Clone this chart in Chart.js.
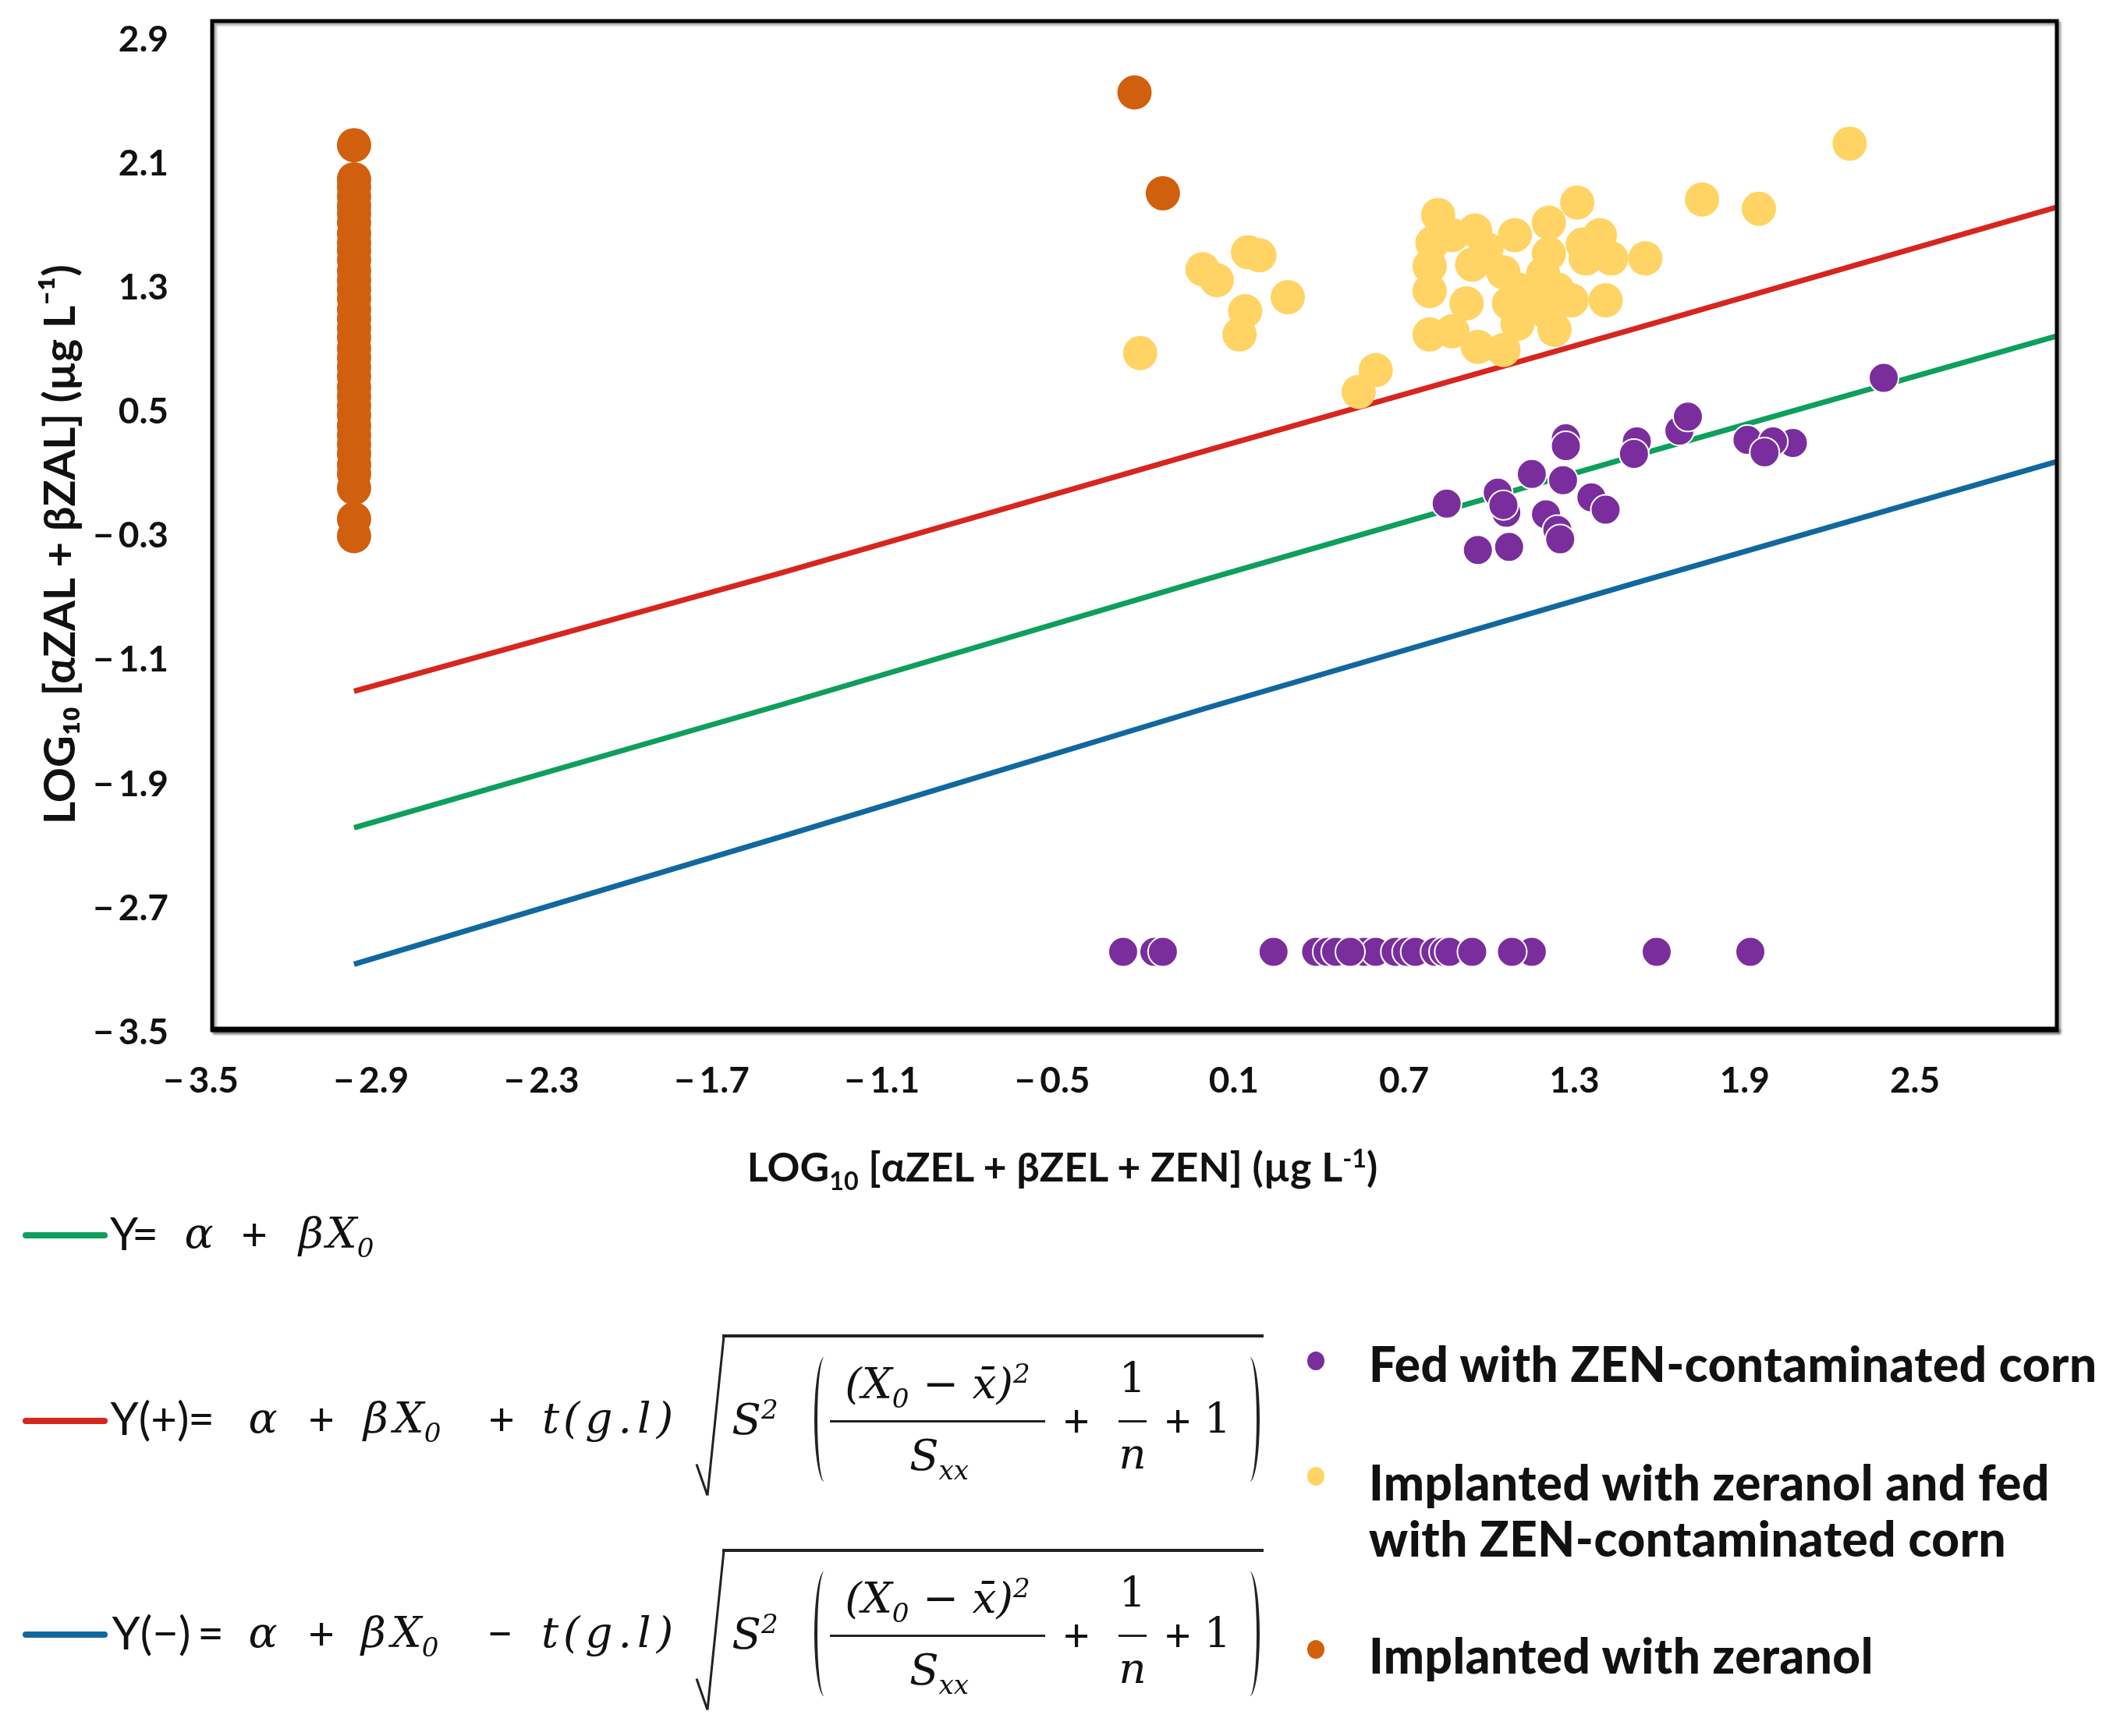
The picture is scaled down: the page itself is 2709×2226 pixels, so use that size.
<!DOCTYPE html>
<html>
<head>
<meta charset="utf-8">
<script src="https://cdn.jsdelivr.net/npm/chart.js@4.4.1/dist/chart.umd.min.js"></script>
<style>
  html, body { margin: 0; padding: 0; background: #fff; }
  body { width: 2709px; height: 2226px; position: relative; overflow: hidden; color: #111; }
  #plot { position: absolute; left: 0; top: 0; width: 2709px; height: 1460px; }
  #legend { position: absolute; left: 0; top: 0; width: 2709px; height: 2226px; }
  .tok { position: absolute; transform: translate(-50%, -50%); line-height: 1; white-space: nowrap; }
  .s { font-family: Lato, sans-serif; font-size: 58px; }
  .m { font-family: "DejaVu Serif", serif; font-style: italic; font-size: 55px; }
  .mw { letter-spacing: 7px; }
  .d { font-family: "DejaVu Serif", serif; font-size: 54px; }
  .lab { position: absolute; transform: translateY(-50%); line-height: 1; white-space: nowrap;
         font-family: Lato, sans-serif; font-weight: 900; font-size: 62px; letter-spacing: 0.5px; }
  .dot { position: absolute; width: 22px; height: 24px; border-radius: 50%; transform: translate(-50%, -50%); }
  .sw { position: absolute; left: 29px; width: 109px; height: 8px; border-radius: 4px; }
  .par { position: absolute; width: 26px; height: 160px; box-sizing: border-box; }
  #xtitle { position: absolute; left: 1362px; top: 1495px; transform: translate(-50%, -50%);
            font-family: Lato, sans-serif; font-weight: bold; font-size: 52px; white-space: nowrap; }
  sub, sup { font-size: 0.62em; line-height: 0; }
</style>
</head>
<body>
<div id="plot"><canvas id="chart"></canvas></div>
<div id="legend">
  <div id="xtitle">LOG<sub>10</sub> [αZEL + βZEL + ZEN] (µg L<sup>-1</sup>)</div>
</div>
<script>
// Axis ticks
const xTicks = [-3.5, -2.9, -2.3, -1.7, -1.1, -0.5, 0.1, 0.7, 1.3, 1.9, 2.5];
const yTicks = [-3.5, -2.7, -1.9, -1.1, -0.3, 0.5, 1.3, 2.1, 2.9];

// Regression line and prediction limits
const lineX  = [-3.0, -1.5, 0.0, 1.5, 3.0];
const fitY   = [-2.20, -1.41, -0.60, 0.19, 0.97];
const upperY = [-1.32, -0.56, 0.23, 1.01, 1.80];
const lowerY = [-3.08, -2.26, -1.43, -0.63, 0.16];

// Fed with ZEN-contaminated corn
const fedX = [0.85, 1.03, 1.06, 1.05, 1.15, 1.27, 1.27, 1.26, 1.20, 1.24, 1.25, 0.96, 1.07, 1.36, 1.41,
              1.52, 1.51, 1.67, 1.70, 1.91, 2.07, 2.00, 1.97, 2.39,
              -0.29, -0.18, -0.15, 0.24, 0.39, 0.43, 0.46, 0.56, 0.60, 0.51, 0.67, 0.71, 0.74,
              0.81, 0.84, 0.86, 0.94, 1.15, 1.08, 1.59, 1.92];
const fedY = [-0.11, -0.04, -0.17, -0.12, 0.08, 0.31, 0.26, 0.04, -0.18, -0.28, -0.34, -0.41, -0.39, -0.07, -0.15,
              0.29, 0.21, 0.36, 0.45, 0.30, 0.28, 0.29, 0.22, 0.70,
              -3.0, -3.0, -3.0, -3.0, -3.0, -3.0, -3.0, -3.0, -3.0, -3.0, -3.0, -3.0, -3.0,
              -3.0, -3.0, -3.0, -3.0, -3.0, -3.0, -3.0, -3.0];

// Implanted with zeranol and fed with ZEN-contaminated corn
const bothX = [-0.23, -0.01, 0.04, 0.15, 0.19, 0.29, 0.14, 0.12, 0.54, 0.60, 1.95, 2.27, 1.75, 0.82,
               0.80, 0.95, 1.09, 1.21, 1.31, 1.39, 1.55, 1.43, 0.94, 0.79, 0.92, 1.05, 1.07, 1.19,
               1.21, 1.16, 1.29, 1.41, 1.34, 0.79, 0.87, 0.96, 1.05, 1.23, 1.21, 0.99, 0.79,
               1.10, 1.24, 0.87, 1.33, 1.10];
const bothY = [0.86, 1.40, 1.33, 1.51, 1.49, 1.22, 1.13, 0.98, 0.61, 0.75, 1.79, 2.21, 1.85, 1.75,
               1.57, 1.65, 1.62, 1.70, 1.83, 1.62, 1.47, 1.47, 1.43, 1.26, 1.18, 1.38, 1.18, 1.37,
               1.50, 1.18, 1.20, 1.20, 1.47, 0.98, 1.00, 0.90, 0.88, 1.01, 1.11, 1.53, 1.42,
               1.27, 1.27, 1.62, 1.56, 1.05];

// Implanted with zeranol
const zerX = [-3.0, -3.0, -3.0, -3.0, -3.0, -3.0, -3.0, -3.0, -3.0, -3.0, -3.0, -3.0, -3.0,
              -3.0, -3.0, -3.0, -3.0, -3.0, -3.0, -3.0, -3.0, -3.0, -3.0, -3.0, -3.0, -3.0,
              -3.0, -3.0, -3.0, -3.0, -3.0, -3.0, -3.0, -3.0, -3.0, -3.0, -0.25, -0.15];
const zerY = [2.20, 1.98, 1.93, 1.87, 1.81, 1.76, 1.70, 1.63, 1.57, 1.52, 1.46, 1.39, 1.33,
              1.27, 1.21, 1.14, 1.08, 1.02, 0.96, 0.89, 0.83, 0.77, 0.71, 0.64, 0.58, 0.52,
              0.46, 0.39, 0.33, 0.27, 0.21, 0.14, 0.08, -0.01, -0.21, -0.32, 2.54, 1.89];

const GREEN = '#0e9f5c', RED = '#d7261e', BLUE = '#11689f';
const PURPLE = '#7a2e9e', YELLOW = '#ffd464', ORANGE = '#d0600e';

const pts = (xs, ys) => xs.map((x, i) => ({ x, y: ys[i] }));
const num = v => (v < 0 ? '\u2212\u2009' : '') + Math.abs(v).toFixed(1);

const tickFont = { family: 'Lato', size: 46, weight: 'bold' };

// black frame round the plot area
const frame = {
  id: 'frame',
  afterDraw(chart) {
    const { ctx, chartArea: a } = chart;
    ctx.save();
    ctx.shadowColor = 'rgba(0,0,0,0.35)';
    ctx.shadowOffsetX = 3;
    ctx.shadowOffsetY = 3;
    ctx.shadowBlur = 3;
    ctx.strokeStyle = '#000';
    ctx.lineWidth = 5;
    ctx.strokeRect(a.left, a.top, a.right - a.left, a.bottom - a.top);
    ctx.lineWidth = 7;
    ctx.beginPath();
    ctx.moveTo(a.left - 2, a.bottom);
    ctx.lineTo(a.right + 2, a.bottom);
    ctx.stroke();
    ctx.restore();
  }
};

// keep label padding from pushing the plot area in
const noPad = ax => { ax.paddingTop = 0; ax.paddingBottom = 0; ax.paddingLeft = 0; ax.paddingRight = 0; };

new Chart(document.getElementById('chart'), {
  type: 'scatter',
  data: {
    datasets: [
      { label: 'Y = α + βX0', data: pts(lineX, fitY), showLine: true, borderColor: GREEN,
        borderWidth: 7, pointRadius: 0, order: 1 },
      { label: 'Y(+)', data: pts(lineX, upperY), showLine: true, borderColor: RED,
        borderWidth: 7, pointRadius: 0, order: 1 },
      { label: 'Y(−)', data: pts(lineX, lowerY), showLine: true, borderColor: BLUE,
        borderWidth: 7, pointRadius: 0, order: 1 },
      { label: 'Fed with ZEN-contaminated corn', data: pts(fedX, fedY), backgroundColor: PURPLE,
        borderColor: '#fff', borderWidth: 2, pointRadius: 19, order: 0 },
      { label: 'Implanted with zeranol and fed with ZEN-contaminated corn', data: pts(bothX, bothY),
        backgroundColor: YELLOW, borderColor: YELLOW, borderWidth: 0, pointRadius: 22, order: 0 },
      { label: 'Implanted with zeranol', data: pts(zerX, zerY), backgroundColor: ORANGE,
        borderColor: ORANGE, borderWidth: 0, pointRadius: 22, order: 0 }
    ]
  },
  options: {
    responsive: true,
    maintainAspectRatio: false,
    animation: false,
    layout: { padding: { top: 27, right: 72, left: 0, bottom: 0 } },
    plugins: { legend: { display: false }, tooltip: { enabled: false } },
    scales: {
      x: {
        type: 'linear', min: -3.5, max: 3.0,
        grid: { display: false, drawTicks: false },
        border: { display: false },
        afterBuildTicks: ax => { ax.ticks = xTicks.map(v => ({ value: v })); },
        afterFit: ax => { ax.height = 140; noPad(ax); },
        ticks: {
          padding: 39, autoSkip: false, maxRotation: 0, color: '#111', font: tickFont,
          callback: v => v < 0 ? num(v) + '\u2002\u2009' : num(v)
        }
      },
      y: {
        type: 'linear', min: -3.5, max: 3.0,
        grid: { display: false, drawTicks: false },
        border: { display: false },
        afterBuildTicks: ax => { ax.ticks = yTicks.map(v => ({ value: v })); },
        afterFit: ax => { ax.width = 272; noPad(ax); },
        ticks: { padding: 56, labelOffset: 4, autoSkip: false, color: '#111', font: tickFont, callback: num },
        title: {
          display: true, text: 'LOG\u2081\u2080 [αZAL + βZAL] (µg L\u207B\u00B9)\u2003\u2009', color: '#111',
          font: { family: 'Lato', size: 56, weight: 'bold' }, padding: { top: 44, bottom: 0 }
        }
      }
    }
  },
  plugins: [frame]
});

// Legend (HTML, below the plot)
const layer = document.getElementById('legend');

function tok(html, cx, cy, cls) {
  const s = document.createElement('span');
  s.className = 'tok ' + cls;
  s.innerHTML = html;
  s.style.left = cx + 'px';
  s.style.top = cy + 'px';
  layer.appendChild(s);
}

function seg(x1, y1, x2, y2, w) {
  const d = document.createElement('div');
  const len = Math.hypot(x2 - x1, y2 - y1);
  const ang = Math.atan2(y2 - y1, x2 - x1) * 180 / Math.PI;
  d.style.cssText = `position:absolute;left:${x1}px;top:${y1 - w / 2}px;width:${len}px;height:${w}px;` +
    `background:#222;transform-origin:0 50%;transform:rotate(${ang}deg)`;
  layer.appendChild(d);
}

function swatch(color, cy) {
  const d = document.createElement('div');
  d.className = 'sw';
  d.style.top = (cy - 4) + 'px';
  d.style.background = color;
  layer.appendChild(d);
}

function paren(left, top, open) {
  const d = document.createElement('div');
  d.className = 'par';
  d.style.left = left + 'px';
  d.style.top = top + 'px';
  if (open) {
    d.style.borderLeft = '4px solid #222';
    d.style.borderRadius = '50% 0 0 50% / 50% 0 0 50%';
  } else {
    d.style.borderRight = '4px solid #222';
    d.style.borderRadius = '0 50% 50% 0 / 0 50% 50% 0';
  }
  layer.appendChild(d);
}

// square-root term, dy shifts it down for the lower band row
function rootTerm(dy) {
  seg(893, 1877 + dy, 907, 1917 + dy, 3);
  seg(907, 1917 + dy, 928, 1713 + dy, 3);
  seg(926, 1713 + dy, 1620, 1713 + dy, 4);
  tok('S<sup>2</sup>', 968, 1820 + dy, 'm');
  paren(1044, 1740 + dy, true);
  tok('(X<sub>0</sub> \u2212 x\u0304)<sup>2</sup>', 1202, 1774 + dy, 'm');
  seg(1064, 1822 + dy, 1340, 1822 + dy, 3);
  tok('S<sub>xx</sub>', 1204, 1866 + dy, 'm');
  tok('+', 1380, 1820 + dy, 's');
  tok('1', 1452, 1768 + dy, 'd');
  seg(1434, 1822 + dy, 1470, 1822 + dy, 3);
  tok('n', 1452, 1864 + dy, 'm');
  tok('+', 1510, 1820 + dy, 's');
  tok('1', 1561, 1820 + dy, 'd');
  paren(1589, 1740 + dy, false);
}

// Y = a + bX0
swatch(GREEN, 1584);
[['Y', 159, 's'], ['=', 186, 's'], ['α', 255, 'm'], ['+', 326, 's'], ['β', 399, 'm'], ['X<sub>0</sub>', 449, 'm']]
  .forEach(t => tok(t[0], t[1], 1581, t[2]));

// Y(+)
swatch(RED, 1822);
[['Y(+)', 192, 's'], ['=', 258, 's'], ['α', 337, 'm'], ['+', 412, 's'], ['β', 482, 'm'],
 ['X<sub>0</sub>', 535, 'm'], ['+', 643, 's'], ['t', 706, 'm'], ['(g.l)', 796, 'm mw']]
  .forEach(t => tok(t[0], t[1], 1818, t[2]));
rootTerm(0);

// Y(-)
swatch(BLUE, 2096);
[['Y(\u2212)', 194, 's'], ['=', 270, 's'], ['α', 337, 'm'], ['+', 412, 's'], ['β', 479, 'm'],
 ['X<sub>0</sub>', 532, 'm'], ['\u2212', 641, 's'], ['t', 705, 'm'], ['(g.l)', 796, 'm mw']]
  .forEach(t => tok(t[0], t[1], 2093, t[2]));
rootTerm(275);

// group markers
const groups = [
  [PURPLE, 1745, ['Fed with ZEN-contaminated corn'], [1748]],
  [YELLOW, 1893, ['Implanted with zeranol and fed', 'with ZEN-contaminated corn'], [1900, 1972]],
  [ORANGE, 2115, ['Implanted with zeranol'], [2122]]
];
groups.forEach(([color, dotY, lines, ys]) => {
  const d = document.createElement('div');
  d.className = 'dot';
  d.style.left = '1687px';
  d.style.top = dotY + 'px';
  d.style.background = color;
  layer.appendChild(d);
  lines.forEach((txt, i) => {
    const s = document.createElement('span');
    s.className = 'lab';
    s.textContent = txt;
    s.style.left = '1755px';
    s.style.top = ys[i] + 'px';
    layer.appendChild(s);
  });
});
</script>
</body>
</html>
